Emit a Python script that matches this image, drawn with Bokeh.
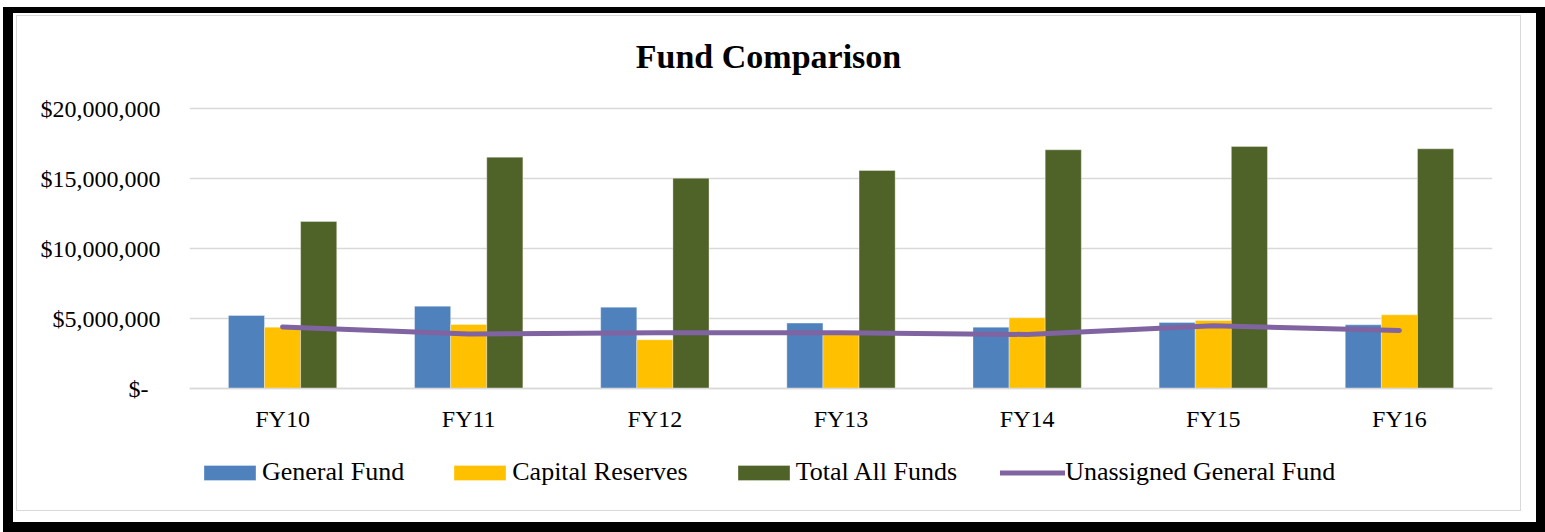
from bokeh.plotting import figure
from bokeh.layouts import column
from bokeh.models import (ColumnDataSource, FactorRange, Range1d, FixedTicker, Legend,
                          LegendItem, Label)
from bokeh.transform import dodge
from bokeh.embed import file_html
from bokeh.resources import INLINE

categories = ["FY10", "FY11", "FY12", "FY13", "FY14", "FY15", "FY16"]
general_fund = [5210000, 5880000, 5810000, 4670000, 4380000, 4710000, 4550000]
capital_reserves = [4380000, 4570000, 3480000, 3880000, 5050000, 4860000, 5260000]
total_all_funds = [11930000, 16520000, 15020000, 15570000, 17050000, 17290000, 17120000]
unassigned_general = [4400000, 3900000, 3980000, 3980000, 3860000, 4480000, 4140000]
y_ticks = [0, 5000000, 10000000, 15000000, 20000000]
y_tick_labels = ["$-\u00a0\u00a0", "$5,000,000", "$10,000,000", "$15,000,000", "$20,000,000"]
title_text = "Fund Comparison"

FONT = "Liberation Serif"
W, H = 1503, 494          # canvas size inside the bordered boxes
F_LEFT, F_RIGHT = 172, 1475   # frame edges in canvas px
TOP_PX, Y0_PX = 92, 372       # canvas px of the top tick and of zero
Y_TOP = 20000000
per_px = Y_TOP / (Y0_PX - TOP_PX)
# frame spans the whole canvas height; title and legend sit inside it
Y_MAX = Y_TOP + TOP_PX * per_px
Y_MIN = -(H - Y0_PX) * per_px

src = ColumnDataSource(dict(fy=categories, gf=general_fund, cr=capital_reserves,
                            ta=total_all_funds, ug=unassigned_general))

p = figure(x_range=FactorRange(*categories, range_padding=0), y_range=Range1d(Y_MIN, Y_MAX),
           width=W, height=H, output_backend="svg", toolbar_location=None,
           min_border_left=F_LEFT, min_border_right=W - F_RIGHT, min_border_top=0,
           min_border_bottom=0)
p.title.visible = False
p.outline_line_color = None
p.background_fill_color = "white"
p.border_fill_color = "white"

bw = 0.194
r_gf = p.vbar(x=dodge("fy", -bw, range=p.x_range), top="gf", width=bw, source=src,
              fill_color="#4F81BD", line_color="white", line_alpha=0.35, line_width=1)
r_cr = p.vbar(x=dodge("fy", 0, range=p.x_range), top="cr", width=bw, source=src,
              fill_color="#FFC000", line_color="white", line_alpha=0.35, line_width=1)
r_ta = p.vbar(x=dodge("fy", bw, range=p.x_range), top="ta", width=bw, source=src,
              fill_color="#4F6228", line_color="white", line_alpha=0.35, line_width=1)
r_ug = p.line(x="fy", y="ug", source=src, line_color="#8064A2", line_width=5,
              line_cap="round", line_join="round")

# axes
p.yaxis.ticker = FixedTicker(ticks=y_ticks)
p.yaxis.major_label_overrides = {t: l for t, l in zip(y_ticks, y_tick_labels)}
p.yaxis.axis_line_color = None
p.yaxis.major_tick_line_color = None
p.yaxis.minor_tick_line_color = None
p.yaxis.major_tick_out = 0
p.yaxis.major_label_standoff = 29
p.yaxis.major_label_text_font = FONT
p.yaxis.major_label_text_font_size = "24px"
p.yaxis.major_label_text_color = "#000000"

p.xaxis.fixed_location = 0
p.xaxis.axis_line_color = "#D9D9D9"
p.xaxis.axis_line_width = 1.5
p.xaxis.major_tick_line_color = None
p.xaxis.minor_tick_line_color = None
p.xaxis.major_tick_out = 0
p.xaxis.major_label_standoff = 17
p.xaxis.major_label_text_font = FONT
p.xaxis.major_label_text_font_size = "24px"
p.xaxis.major_label_text_color = "#000000"

p.xgrid.grid_line_color = None
p.ygrid.grid_line_color = "#D9D9D9"
p.ygrid.grid_line_width = 1.5

# title (screen units relative to the frame's bottom-left corner)
p.add_layout(Label(text=title_text, x=579, y=H - 40, x_units="screen", y_units="screen",
                   text_align="center", text_baseline="alphabetic",
                   text_font=FONT, text_font_size="34px", text_font_style="bold",
                   text_color="#000000"))

# legend inside the frame, below the category labels
legend = Legend(items=[LegendItem(label="General Fund", renderers=[r_gf]),
                       LegendItem(label="Capital Reserves", renderers=[r_cr]),
                       LegendItem(label="Total All Funds", renderers=[r_ta]),
                       LegendItem(label="Unassigned General Fund", renderers=[r_ug])],
                orientation="horizontal", location=(8, 23),
                glyph_width=65, glyph_height=19, label_standoff=0, spacing=43,
                label_text_font=FONT, label_text_font_size="26px", label_text_color="#000000",
                border_line_color=None, background_fill_alpha=0, margin=0, padding=0)
p.add_layout(legend, "center")

inner = column(p, styles={"border": "1px solid #D9D9D9"})
outer = column(inner, styles={"margin-left": "3px", "margin-top": "7px",
                              "border-style": "solid", "border-color": "black",
                              "border-width": "6px 9px 10px 10px",
                              "padding": "2px 15px 11px 3px"})

open("out.html", "w").write(file_html(outer, INLINE))
